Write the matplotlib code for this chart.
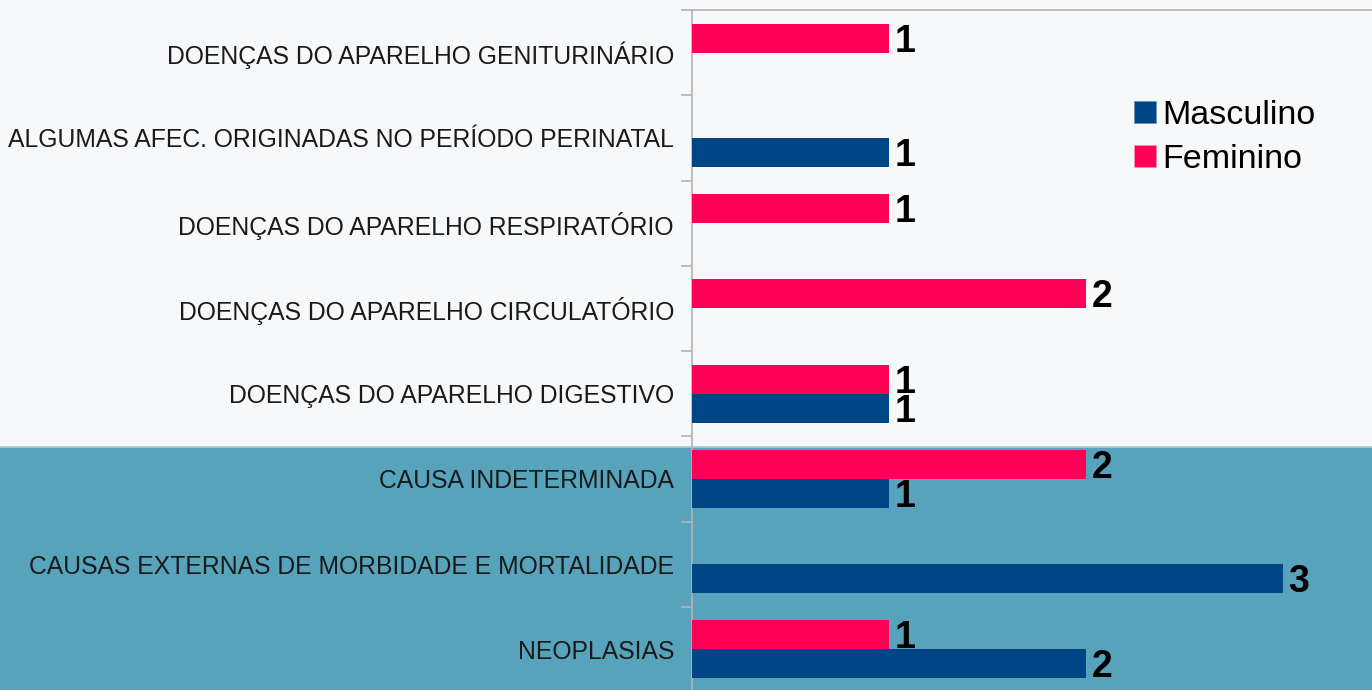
import matplotlib
matplotlib.use("Agg")
import matplotlib.pyplot as plt
import numpy as np
from matplotlib.patches import Rectangle, Patch
from matplotlib.lines import Line2D

plt.rcParams['font.family'] = ['Liberation Sans', 'DejaVu Sans']

# Categories listed bottom-to-top
categories = [
    "NEOPLASIAS",
    "CAUSAS EXTERNAS DE MORBIDADE E MORTALIDADE",
    "CAUSA INDETERMINADA",
    "DOENÇAS DO APARELHO DIGESTIVO",
    "DOENÇAS DO APARELHO CIRCULATÓRIO",
    "DOENÇAS DO APARELHO RESPIRATÓRIO",
    "ALGUMAS AFEC. ORIGINADAS NO PERÍODO PERINATAL",
    "DOENÇAS DO APARELHO GENITURINÁRIO",
]
masculino = [2, 3, 1, 1, None, None, 1, None]
feminino = [1, None, 2, 1, 2, 1, None, 1]
series_names = ["Masculino", "Feminino"]

BLUE = "#004586"
PINK = "#ff0057"
TEAL = "#58a3bc"
LIGHT = "#f7f8fa"
GRAY = "#b3b3b3"

W, H = 1372, 690
fig = plt.figure(figsize=(W / 100, H / 100), dpi=100, facecolor=LIGHT)

# background band (bottom part)
band_top = (H - 447) / H
fig.patches.append(Rectangle((0, 0), 1, band_top, transform=fig.transFigure,
                             facecolor=TEAL, edgecolor="none", zorder=-2))
fig.lines.append(Line2D([0, 1], [band_top, band_top], transform=fig.transFigure,
                        color="#a9cad8", lw=1.2, zorder=-1))

ax_left = 692 / W
ax_top = 1 - 10 / H
ax_bottom = (H - 692) / H
ax = fig.add_axes([ax_left, ax_bottom, 1 - ax_left, ax_top - ax_bottom])
ax.set_facecolor("none")
ax.set_zorder(1)

y = np.arange(len(categories))
bh = 0.34
m_vals = np.array([np.nan if v is None else v for v in masculino], dtype=float)
f_vals = np.array([np.nan if v is None else v for v in feminino], dtype=float)

bars_m = ax.barh(y - bh / 2, np.nan_to_num(m_vals), height=bh, color=BLUE,
                 label=series_names[0], zorder=3)
bars_f = ax.barh(y + bh / 2, np.nan_to_num(f_vals), height=bh, color=PINK,
                 label=series_names[1], zorder=3)

lab_m = ["" if np.isnan(v) else f"{int(v)}" for v in m_vals]
lab_f = ["" if np.isnan(v) else f"{int(v)}" for v in f_vals]
for bars, labs in ((bars_m, lab_m), (bars_f, lab_f)):
    texts = ax.bar_label(bars, labels=labs, padding=4, fontsize=27,
                         fontweight="bold", color="black")
    for t in texts:
        t.xyann = (4, -2.5)

px_per_unit = 197.0
ax.set_xlim(0, (W - 692) / px_per_unit)
ax.set_ylim(-0.5, len(categories) - 0.5)

ax.set_yticks(y)
ax.set_yticklabels(categories, fontsize=17.8, color="#1a1a1a")
ax.set_yticks(np.arange(-0.5, len(categories), 1.0), minor=True)
ax.tick_params(axis="y", which="major", length=0, pad=13)
ax.tick_params(axis="y", which="minor", length=8, width=1.2, color=GRAY,
               direction="out")
ax.set_xticks([])

for s in ("right", "bottom"):
    ax.spines[s].set_visible(False)
for s in ("left", "top"):
    ax.spines[s].set_color(GRAY)
    ax.spines[s].set_linewidth(1.2)

handles = [Patch(facecolor=BLUE, edgecolor="#6f93b8", lw=0.6),
           Patch(facecolor=PINK, edgecolor="#ff8fb0", lw=0.6)]
fig.legend(handles, series_names, loc="upper left",
           bbox_to_anchor=(1134 / W, 1 - 100 / H), frameon=False,
           fontsize=24.5, handlelength=0.64, handleheight=0.64,
           handletextpad=0.2, labelspacing=0.38, borderpad=0,
           borderaxespad=0)

fig.savefig("out.png", dpi=100, facecolor=LIGHT)
